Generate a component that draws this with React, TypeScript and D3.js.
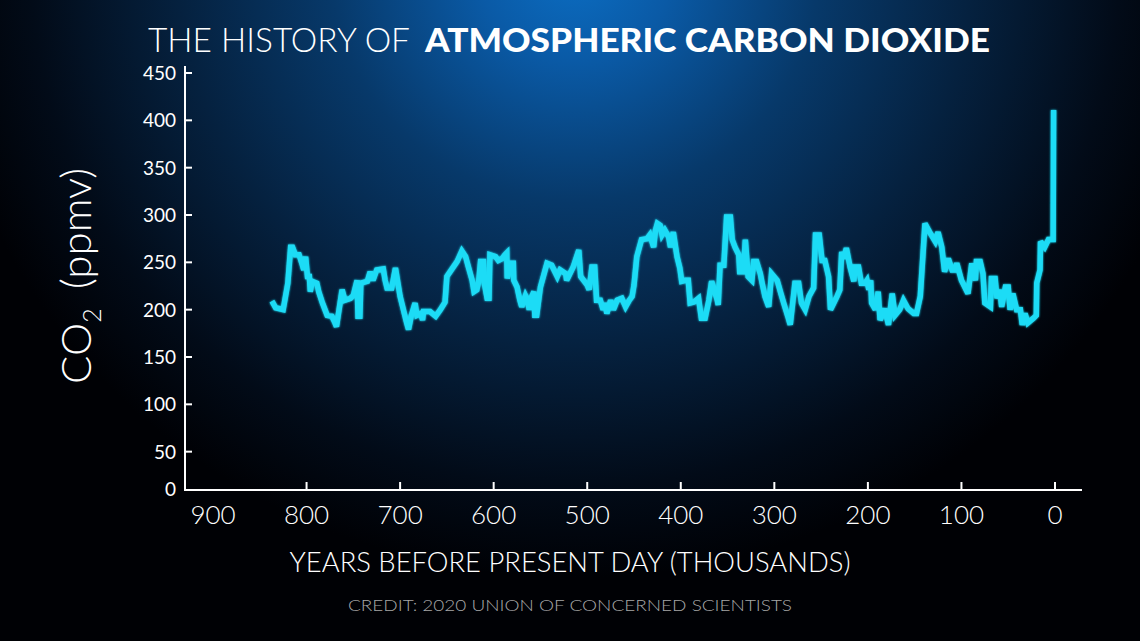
import React from "react";
import * as d3 from "d3";

// Thousands of years before present
const yearsKyr: number[] = [
  837, 833, 825, 820, 817, 815, 812, 808, 805, 803, 801, 799, 797, 796, 794, 789, 787, 783, 778, 773,
  770, 768, 762, 759, 753, 750, 746, 745, 743, 742, 735, 732, 729, 725, 718, 716, 714, 709, 705, 700,
  693, 691, 688, 684, 682, 678, 676, 675, 668, 662, 657, 652, 650, 639, 634, 630, 627, 623, 621, 618,
  616, 614, 611, 610, 607, 605, 604, 598, 595, 591, 588, 586, 585.5, 582, 579, 578.5, 575, 572, 570, 566,
  564, 562, 561, 557, 556, 554, 550, 543, 538, 532, 529, 523, 522, 515, 509, 507, 500, 498, 495, 492,
  490, 486, 483, 481, 479, 475, 472, 468, 463, 459, 455, 452, 450, 447, 442, 436, 433, 429, 427, 425,
  422, 420, 417, 413, 411, 408, 404, 401, 399, 395, 392, 390, 386, 381, 378, 374, 370, 367, 361, 360,
  358, 354, 351, 347, 345, 342, 338, 337, 333, 331, 328, 324, 322, 319, 315, 313, 310, 306, 303, 297,
  293, 290, 285, 283, 278, 274, 271, 267, 263, 258, 256, 252, 249, 246, 242, 240, 233, 230, 228, 226,
  223, 219, 215, 214, 210, 207, 203, 201, 199, 197, 196, 192, 189, 187, 182, 178, 174, 171, 166, 162,
  157, 151, 148, 144, 139, 134, 128, 125, 121, 118, 114, 110, 107, 105, 100, 93, 89, 85, 84, 80,
  77, 75, 69, 68, 64, 62, 59, 57, 53, 50, 48, 45, 41, 37, 35, 32, 29, 23, 20, 19.5,
  16, 15.5, 11, 7, 2, 1.5,
];

// CO2 concentration, ppmv
const co2Ppmv: number[] = [
  209, 202, 200, 228, 266, 266, 258, 258, 249, 242, 256, 235, 235, 219, 230, 228, 219, 207, 194, 193,
  187, 182, 221, 210, 212, 215, 231, 193, 193, 228, 230, 240, 231, 242, 243, 231, 223, 223, 244, 214,
  186, 179, 194, 207, 194, 196, 189, 198, 198, 193, 200, 208, 235, 251, 262, 256, 245, 231, 219, 221,
  230, 251, 251, 228, 212, 212, 258, 256, 252, 254, 258, 260, 233, 249, 249, 231, 224, 210, 203, 215,
  211, 200, 210, 219, 194, 194, 224, 249, 247, 235, 242, 238, 231, 245, 263, 235, 226, 221, 245, 245,
  210, 210, 200, 207, 196, 210, 200, 210, 212, 203, 210, 214, 226, 256, 274, 275, 279, 266, 284, 291,
  289, 279, 284, 277, 266, 282, 256, 244, 230, 231, 231, 207, 208, 212, 191, 191, 210, 230, 210, 205,
  247, 247, 298, 298, 274, 266, 258, 240, 240, 274, 235, 231, 251, 251, 238, 228, 214, 203, 238, 231,
  217, 207, 191, 184, 228, 228, 207, 200, 214, 223, 279, 279, 252, 252, 235, 200, 214, 221, 261, 254,
  265, 245, 230, 245, 245, 228, 228, 231, 221, 231, 207, 200, 219, 189, 201, 184, 217, 194, 200, 210,
  201, 196, 196, 214, 291, 282, 272, 282, 266, 240, 254, 242, 242, 249, 231, 217, 249, 231, 251, 251,
  238, 207, 203, 233, 233, 212, 221, 203, 224, 224, 200, 217, 200, 200, 184, 196, 186, 191, 194, 228,
  242, 272, 266, 274, 274, 411,
];

const xTickValues: number[] = [900, 800, 700, 600, 500, 400, 300, 200, 100, 0];
const xTickMarks: number[] = [800, 700, 600, 500, 400, 300, 200, 100, 0];
const yTickValues: number[] = [0, 50, 100, 150, 200, 250, 300, 350, 400, 450];

const TITLE_LIGHT = "THE HISTORY OF";
const TITLE_BOLD = "ATMOSPHERIC CARBON DIOXIDE";
const X_TITLE = "YEARS BEFORE PRESENT DAY (THOUSANDS)";
const CREDIT = "CREDIT: 2020 UNION OF CONCERNED SCIENTISTS";

const W = 1140;
const H = 641;
const FONT = "Lato, 'Open Sans', sans-serif";

export default function App() {
  const x = d3.scaleLinear().domain([900, 0]).range([213, 1055]);
  const y = d3.scaleLinear().domain([0, 450]).range([499, 73]);
  const axisY = 490;
  const axisX = 185;

  const pts: [number, number][] = yearsKyr.map((k, i) => [k, co2Ppmv[i]]);
  const line = d3
    .line<[number, number]>()
    .x((d) => x(d[0]))
    .y((d) => y(d[1]));

  return (
    <svg
      width={W}
      height={H}
      viewBox={`0 0 ${W} ${H}`}
      style={{ position: "absolute", left: 0, top: 0, display: "block" }}
    >
      <defs>
        <radialGradient
          id="bg"
          gradientUnits="userSpaceOnUse"
          cx={575}
          cy={-30}
          r={640}
          gradientTransform="translate(575,-30) scale(1,0.95) translate(-575,30)"
        >
          <stop offset="0" stopColor="#0b6dc2" />
          <stop offset="0.15" stopColor="#0a5aa6" />
          <stop offset="0.38" stopColor="#07396a" />
          <stop offset="0.62" stopColor="#05213f" />
          <stop offset="0.85" stopColor="#020b18" />
          <stop offset="1" stopColor="#000105" />
        </radialGradient>
        <filter id="glow" x="-10%" y="-10%" width="120%" height="120%">
          <feGaussianBlur stdDeviation="1.2" result="b" />
          <feMerge>
            <feMergeNode in="b" />
            <feMergeNode in="SourceGraphic" />
          </feMerge>
        </filter>
      </defs>
      <rect x={0} y={0} width={W} height={H} fill="#000105" />
      <rect x={0} y={0} width={W} height={H} fill="url(#bg)" />

      {/* Title */}
      <text x={148} y={52} fill="#ffffff" fontFamily={FONT} fontSize={33} fontWeight={300}
        textLength={262} lengthAdjust="spacingAndGlyphs">
        {TITLE_LIGHT}
      </text>
      <text x={425} y={52} fill="#ffffff" fontFamily={FONT} fontSize={33} fontWeight={900}
        textLength={565} lengthAdjust="spacingAndGlyphs">
        {TITLE_BOLD}
      </text>

      {/* Y axis */}
      <line x1={axisX} x2={axisX} y1={66} y2={axisY + 1} stroke="#ffffff" strokeWidth={2} />
      {yTickValues.filter((v) => v > 0).map((v) => (
        <line key={"yt" + v} x1={axisX} x2={axisX + 7} y1={y(v)} y2={y(v)} stroke="#ffffff" strokeWidth={2} />
      ))}
      {yTickValues.map((v) => (
        <text key={"yl" + v} x={176} y={Math.min(y(v), axisY - 1) + 7} fill="#ffffff"
          fontFamily={FONT} fontSize={19} textAnchor="end">
          {v}
        </text>
      ))}

      {/* X axis */}
      <line x1={axisX - 1} x2={1082} y1={axisY} y2={axisY} stroke="#ffffff" strokeWidth={2} />
      {xTickMarks.map((v) => (
        <line key={"xt" + v} x1={x(v)} x2={x(v)} y1={axisY} y2={axisY - 8} stroke="#ffffff" strokeWidth={2} />
      ))}
      {xTickValues.map((v) => (
        <text key={"xl" + v} x={x(v)} y={524} fill="#ffffff" fontFamily={FONT} fontSize={26}
          fontWeight={300} textAnchor="middle">
          {v}
        </text>
      ))}

      {/* Axis titles */}
      <text transform="translate(91,276) rotate(-90)" fill="#ffffff" fontFamily={FONT}
        fontSize={42} fontWeight={300} textAnchor="middle">
        CO<tspan fontSize={25} dy={10}>2</tspan><tspan dy={-10} dx={8}>{" (ppmv)"}</tspan>
      </text>
      <text x={570} y={572} fill="#ffffff" fontFamily={FONT} fontSize={27} fontWeight={300}
        textAnchor="middle" textLength={561} lengthAdjust="spacingAndGlyphs">
        {X_TITLE}
      </text>
      <text x={570} y={611} fill="#a7a7a7" fontFamily={FONT} fontSize={16} fontWeight={300}
        textAnchor="middle" textLength={444} lengthAdjust="spacingAndGlyphs">
        {CREDIT}
      </text>

      {/* CO2 line */}
      <path d={line(pts) || ""} fill="none" stroke="#1edcf6" strokeWidth={5.5}
        strokeLinejoin="miter" strokeMiterlimit={3} filter="url(#glow)" />
    </svg>
  );
}
